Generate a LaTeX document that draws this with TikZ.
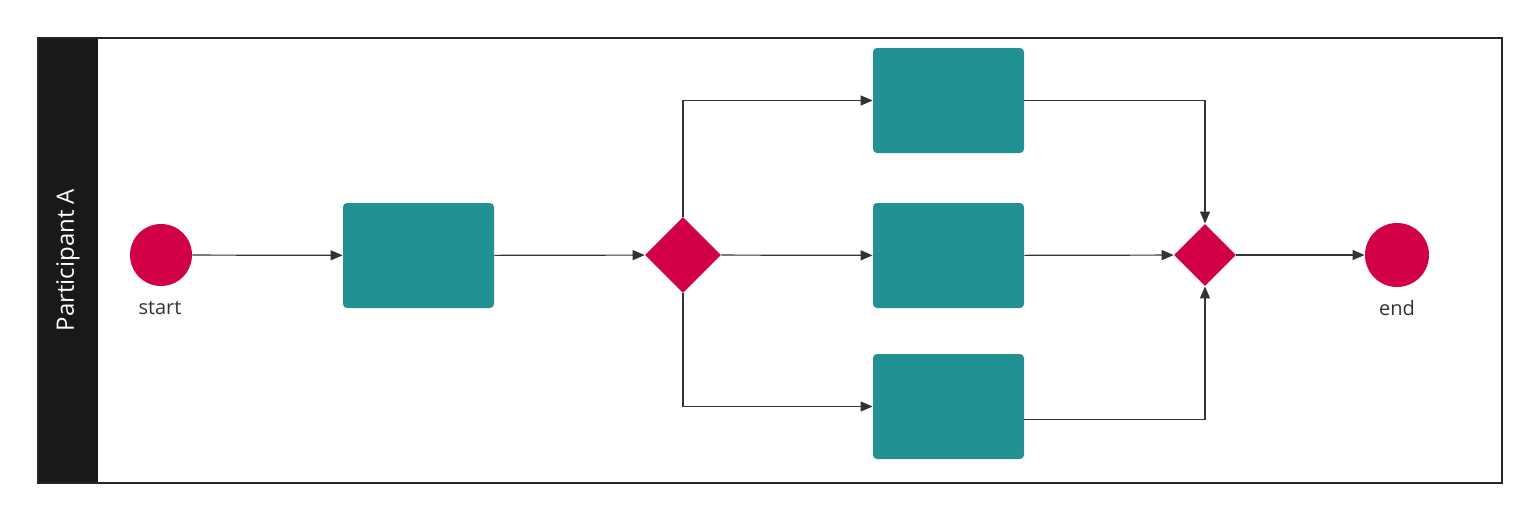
\documentclass[tikz,border=0pt]{standalone}
\usepackage{fontspec}
\setmainfont{Open Sans}
\usetikzlibrary{arrows.meta,shapes.geometric}
\definecolor{teal1}{RGB}{33,145,147}
\definecolor{red1}{RGB}{210,0,70}
\definecolor{line1}{RGB}{51,51,51}
\tikzset{
  task/.style={fill=teal1,rounded corners=2pt,minimum width=75.5pt,minimum height=52.5pt,inner sep=0pt},
  event/.style={circle,fill=red1,minimum size=31pt,inner sep=0pt},
  gate/.style={diamond,fill=red1,inner sep=0pt},
  flow/.style={line1,line width=0.6pt,-{Triangle[length=6pt,width=5pt]}},
}
\begin{document}
\begin{tikzpicture}[x=0.5pt,y=-0.5pt]
        \useasboundingbox (0,0) rectangle (1539,520);
        % pool
        \fill[white] (38,38) rectangle (1502,483);
        \fill[black!90] (38,38) rectangle (98,483);
        \draw[black!85,line width=1.2pt] (38,38) rectangle (1502,483);
        \node[rotate=90,white,font=\large] (lane) at (68,260) {Participant A};
        % shapes
        \node[event] (start) at (161,255) {};
        \node[line1] (startlbl) at (160,308) {start};
        \node[task] (t1) at (418.5,255.5) {};
        \node[gate,minimum width=38pt,minimum height=38pt] (g1) at (683,255) {};
        \node[task] (t2) at (948.5,100.5) {};
        \node[task] (t3) at (948.5,255.5) {};
        \node[task] (t4) at (948.5,406.5) {};
        \node[gate,minimum width=31pt,minimum height=31pt] (g2) at (1205,255) {};
        \node[event,minimum size=32pt] (end) at (1397,255) {};
        \node[line1] (endlbl) at (1397,308) {end};
        % flows
        \draw[flow] (start) -- (t1);
        \draw[flow] (t1) -- (g1);
        \draw[flow] (g1) -- (t3);
        \draw[flow] (g1.north) |- (t2);
        \draw[flow] (g1.south) |- (t4);
        \draw[flow] (t2.east) -| (g2.north);
        \draw[flow] (t4.east) ++(0,13) -| (g2.south);
        \draw[flow] (t3) -- (g2);
        \draw[flow] (g2) -- (end);
\end{tikzpicture}
\end{document}
